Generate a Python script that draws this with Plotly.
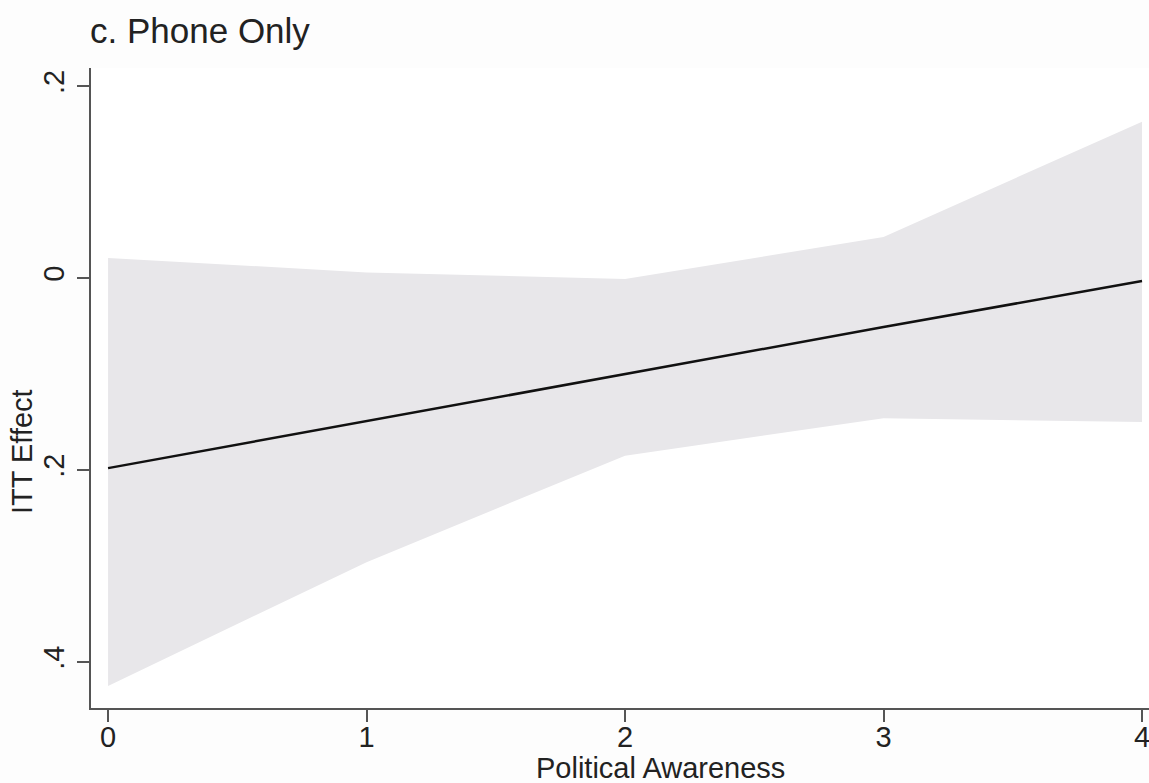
import plotly.graph_objects as go

# Political awareness levels and ITT estimates with 95% CI
awareness = [0, 1, 2, 3, 4]
itt_effect = [-0.198, -0.149, -0.100, -0.051, -0.003]
ci_upper = [0.021, 0.006, -0.001, 0.043, 0.163]
ci_lower = [-0.425, -0.296, -0.185, -0.146, -0.150]

y_tickvals = [0.2, 0.0, -0.2, -0.4]
y_ticktext = [".2", "0", ".2", ".4"]
x_tickvals = [0, 1, 2, 3, 4]

FONT = "Liberation Sans, Arial, sans-serif"
AXIS_COLOR = "#555555"

fig = go.Figure()

# Confidence band
fig.add_trace(go.Scatter(
    x=awareness + awareness[::-1],
    y=ci_upper + ci_lower[::-1],
    fill="toself",
    fillcolor="#e8e7ea",
    line=dict(width=0),
    mode="lines",
    hoverinfo="skip",
    showlegend=False,
))

# Point estimate line
fig.add_trace(go.Scatter(
    x=awareness,
    y=itt_effect,
    mode="lines",
    line=dict(color="#111111", width=2.5),
    showlegend=False,
))

fig.update_layout(
    width=1149,
    height=783,
    margin=dict(l=91, r=0, t=68, b=75),
    paper_bgcolor="#fdfdfd",
    plot_bgcolor="#ffffff",
    font=dict(family=FONT, color="#111111"),
    showlegend=False,
    annotations=[
        dict(text="c. Phone Only", xref="paper", yref="paper", x=0, y=1,
             xshift=-3, yshift=38, xanchor="left", yanchor="middle",
             showarrow=False, font=dict(size=35, family=FONT, color="#222222")),
        dict(text="Political Awareness", xref="paper", yref="paper", x=0.5, y=0,
             xshift=40, yshift=-60, xanchor="center", yanchor="middle",
             showarrow=False, font=dict(size=29, family=FONT, color="#222222")),
        dict(text="ITT Effect", xref="paper", yref="paper", x=0, y=0.5,
             xshift=-69, yshift=-64, xanchor="center", yanchor="middle",
             textangle=-90,
             showarrow=False, font=dict(size=29, family=FONT, color="#222222")),
    ],
)

fig.update_xaxes(
    range=[-0.066, 4.027],
    tickvals=x_tickvals,
    ticktext=[str(v) for v in x_tickvals],
    ticks="outside", ticklen=12, tickwidth=2, tickcolor=AXIS_COLOR,
    ticklabeloverflow="allow",
    ticklabelstandoff=-10,
    showline=True, linecolor=AXIS_COLOR, linewidth=2,
    showgrid=False, zeroline=False,
    tickfont=dict(size=29, family=FONT, color="#222222"),
)

fig.update_yaxes(
    range=[-0.448, 0.219],
    tickvals=y_tickvals,
    ticktext=y_ticktext,
    tickangle=-90,
    ticks="outside", ticklen=12, tickwidth=2, tickcolor=AXIS_COLOR,
    ticklabelstandoff=1,
    showline=True, linecolor=AXIS_COLOR, linewidth=2,
    showgrid=False, zeroline=False,
    tickfont=dict(size=29, family=FONT, color="#222222"),
)

fig.write_html("out.html")
